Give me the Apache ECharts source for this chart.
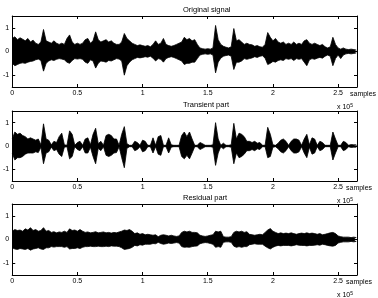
<!DOCTYPE html>
<html><head><meta charset="utf-8">
<script src="https://cdn.jsdelivr.net/npm/echarts@6/dist/echarts.min.js"></script>
<style>html,body{margin:0;padding:0;background:#fff}#c{width:378px;height:298px}</style>
</head><body><div id="c"></div>
<script>
// sample positions (x 10^5 samples), step between envelope readings
const xStep = 0.02;
const xMax = 2.645;
const xTickValues = [0, 0.5, 1, 1.5, 2, 2.5];
const xTickLabels = ['0', '0.5', '1', '1.5', '2', '2.5'];
const yTickValues = [-1, 0, 1];
const titles = ['Original signal', 'Transient part', 'Residual part'];

// envelope readings (upper / lower) of each waveform
const originalUpper = [0.55,0.62,0.5,0.58,0.52,0.45,0.55,0.4,0.48,0.35,0.3,0.4,0.93,0.45,0.4,0.35,0.45,0.35,0.3,0.35,0.3,0.55,0.7,0.4,0.3,0.35,0.3,0.35,0.5,0.55,0.35,0.45,0.83,0.5,0.4,0.45,0.5,0.4,0.45,0.35,0.3,0.3,0.4,0.76,0.55,0.45,0.35,0.3,0.25,0.28,0.25,0.22,0.25,0.2,0.3,0.45,0.3,0.35,0.55,0.3,0.25,0.22,0.25,0.3,0.35,0.4,0.6,0.5,0.55,0.45,0.5,0.3,0.15,0.12,0.1,0.12,0.1,0.15,1.1,0.5,0.3,0.22,0.18,0.15,0.2,0.97,0.45,0.5,0.4,0.3,0.35,0.3,0.28,0.22,0.25,0.2,0.18,0.3,0.8,0.6,0.45,0.55,0.4,0.35,0.4,0.3,0.35,0.3,0.4,0.3,0.35,0.3,0.45,0.5,0.35,0.3,0.35,0.3,0.25,0.3,0.2,0.15,0.2,0.6,0.3,0.15,0.1,0.15,0.1,0.08,0.1,0.08,0.06];
const originalLower = [-0.5,-0.6,-0.55,-0.5,-0.48,-0.5,-0.45,-0.42,-0.4,-0.35,-0.32,-0.38,-0.83,-0.5,-0.4,-0.35,-0.38,-0.33,-0.3,-0.32,-0.35,-0.45,-0.5,-0.38,-0.3,-0.32,-0.3,-0.33,-0.45,-0.5,-0.35,-0.4,-0.7,-0.5,-0.4,-0.42,-0.45,-0.38,-0.4,-0.35,-0.3,-0.32,-0.4,-1.0,-0.6,-0.45,-0.35,-0.3,-0.25,-0.27,-0.25,-0.22,-0.24,-0.2,-0.28,-0.4,-0.3,-0.33,-0.45,-0.3,-0.25,-0.22,-0.25,-0.3,-0.35,-0.4,-0.55,-0.5,-0.5,-0.45,-0.45,-0.3,-0.15,-0.12,-0.1,-0.12,-0.1,-0.15,-0.9,-0.45,-0.28,-0.2,-0.17,-0.15,-0.2,-0.76,-0.45,-0.45,-0.4,-0.3,-0.33,-0.3,-0.27,-0.22,-0.25,-0.2,-0.18,-0.28,-0.55,-0.5,-0.42,-0.45,-0.38,-0.35,-0.38,-0.3,-0.33,-0.3,-0.38,-0.3,-0.33,-0.3,-0.45,-0.6,-0.35,-0.3,-0.33,-0.28,-0.25,-0.28,-0.2,-0.15,-0.2,-0.6,-0.3,-0.15,-0.3,-0.15,-0.1,-0.08,-0.1,-0.08,-0.06];
const transientUpper = [0.3,0.6,0.5,0.55,0.45,0.4,0.3,0.35,0.3,0.25,0.3,0.05,0.95,0.3,0.25,0.05,0.2,0.15,0.4,0.55,0.05,0.03,0.65,0.5,0.03,0.15,0.2,0.03,0.3,0.35,0.05,0.5,0.76,0.1,0.2,0.03,0.45,0.5,0.45,0.3,0.3,0.03,0.5,0.83,0.1,0.03,0.03,0.2,0.15,0.03,0.25,0.2,0.03,0.03,0.35,0.03,0.4,0.45,0.03,0.03,0.35,0.05,0.03,0.03,0.03,0.45,0.6,0.4,0.6,0.3,0.03,0.03,0.15,0.1,0.03,0.03,0.03,0.05,1.0,0.3,0.03,0.12,0.03,0.03,0.05,0.97,0.3,0.55,0.5,0.4,0.2,0.2,0.15,0.2,0.12,0.15,0.03,0.03,0.8,0.5,0.05,0.03,0.12,0.25,0.3,0.2,0.03,0.2,0.3,0.3,0.25,0.03,0.3,0.5,0.05,0.35,0.3,0.03,0.2,0.15,0.03,0.03,0.03,0.6,0.3,0.03,0.03,0.2,0.15,0.03,0.06,0.05,0.05];
const transientLower = [-0.3,-0.6,-0.5,-0.5,-0.45,-0.35,-0.3,-0.3,-0.3,-0.25,-0.28,-0.05,-0.76,-0.3,-0.25,-0.05,-0.2,-0.15,-0.35,-0.45,-0.05,-0.03,-0.55,-0.45,-0.03,-0.15,-0.2,-0.03,-0.3,-0.3,-0.05,-0.45,-0.76,-0.1,-0.2,-0.03,-0.4,-0.45,-0.4,-0.3,-0.28,-0.03,-0.5,-0.93,-0.1,-0.03,-0.03,-0.2,-0.15,-0.03,-0.25,-0.2,-0.03,-0.03,-0.3,-0.03,-0.35,-0.4,-0.03,-0.03,-0.3,-0.05,-0.03,-0.03,-0.03,-0.45,-0.55,-0.4,-0.55,-0.3,-0.03,-0.03,-0.15,-0.1,-0.03,-0.03,-0.03,-0.05,-0.83,-0.3,-0.03,-0.12,-0.03,-0.03,-0.05,-0.76,-0.3,-0.5,-0.45,-0.35,-0.2,-0.2,-0.15,-0.2,-0.12,-0.15,-0.03,-0.03,-0.5,-0.45,-0.05,-0.03,-0.12,-0.25,-0.3,-0.2,-0.03,-0.2,-0.3,-0.3,-0.25,-0.03,-0.3,-0.5,-0.05,-0.35,-0.3,-0.03,-0.2,-0.15,-0.03,-0.03,-0.03,-0.6,-0.3,-0.03,-0.03,-0.2,-0.15,-0.03,-0.06,-0.05,-0.05];
const residualUpper = [0.35,0.42,0.38,0.4,0.35,0.45,0.4,0.5,0.38,0.42,0.35,0.38,0.5,0.35,0.38,0.3,0.33,0.28,0.32,0.3,0.35,0.3,0.45,0.38,0.4,0.35,0.42,0.35,0.3,0.32,0.28,0.3,0.33,0.28,0.3,0.32,0.28,0.3,0.27,0.3,0.28,0.32,0.35,0.4,0.38,0.42,0.35,0.25,0.28,0.22,0.25,0.2,0.22,0.2,0.18,0.2,0.12,0.18,0.2,0.18,0.15,0.18,0.15,0.13,0.15,0.3,0.35,0.32,0.35,0.3,0.3,0.28,0.18,0.15,0.13,0.15,0.18,0.2,0.35,0.32,0.35,0.12,0.1,0.1,0.12,0.3,0.35,0.32,0.35,0.3,0.33,0.22,0.2,0.18,0.2,0.22,0.2,0.3,0.4,0.46,0.35,0.3,0.25,0.28,0.25,0.27,0.25,0.28,0.25,0.22,0.25,0.27,0.25,0.28,0.25,0.27,0.25,0.22,0.25,0.2,0.22,0.25,0.28,0.3,0.25,0.15,0.12,0.1,0.1,0.1,0.08,0.1,0.08];
const residualLower = [-0.35,-0.4,-0.42,-0.38,-0.4,-0.42,-0.38,-0.45,-0.4,-0.38,-0.35,-0.4,-0.42,-0.35,-0.35,-0.3,-0.32,-0.3,-0.3,-0.3,-0.33,-0.3,-0.4,-0.38,-0.38,-0.35,-0.38,-0.33,-0.3,-0.3,-0.28,-0.3,-0.3,-0.28,-0.3,-0.3,-0.28,-0.3,-0.27,-0.28,-0.28,-0.3,-0.35,-0.42,-0.4,-0.38,-0.33,-0.25,-0.27,-0.22,-0.24,-0.2,-0.2,-0.2,-0.17,-0.18,-0.12,-0.17,-0.2,-0.18,-0.15,-0.17,-0.15,-0.13,-0.15,-0.3,-0.33,-0.32,-0.33,-0.3,-0.28,-0.27,-0.18,-0.15,-0.13,-0.14,-0.17,-0.2,-0.33,-0.3,-0.33,-0.12,-0.1,-0.1,-0.12,-0.28,-0.33,-0.3,-0.33,-0.3,-0.3,-0.22,-0.2,-0.18,-0.2,-0.2,-0.2,-0.28,-0.35,-0.4,-0.33,-0.28,-0.25,-0.27,-0.25,-0.25,-0.25,-0.27,-0.25,-0.22,-0.24,-0.25,-0.25,-0.27,-0.25,-0.25,-0.24,-0.22,-0.24,-0.2,-0.22,-0.25,-0.27,-0.28,-0.25,-0.15,-0.12,-0.1,-0.1,-0.1,-0.08,-0.1,-0.08];

const envelopes = [
  [originalUpper, originalLower],
  [transientUpper, transientLower],
  [residualUpper, residualLower]
];

const FONT = '"Liberation Sans", Arial, Helvetica, sans-serif';
const grids = [
  {left: 9, right: 21, top: 16, height: 71},
  {left: 9, right: 21, top: 111, height: 70},
  {left: 9, right: 21, top: 204, height: 71}
];
const axisLine = {show: true, onZero: false, lineStyle: {color: '#000', width: 1}};
const xAxis = [], yAxis = [], series = [], graphic = [];
grids.forEach((g, gi) => {
  const tick = {show: true, inside: true, length: 3, customValues: xTickValues, lineStyle: {color: '#000', width: 1}};
  xAxis.push({gridIndex: gi, type: 'value', min: 0, max: xMax, position: 'bottom', axisLine,
    axisTick: tick, splitLine: {show: false},
    axisLabel: {show: true, customValues: xTickValues, margin: 3, fontSize: 7, color: '#000', fontFamily: FONT,
      formatter: v => xTickLabels[xTickValues.indexOf(v)] ?? ''}});
  xAxis.push({gridIndex: gi, type: 'value', min: 0, max: xMax, position: 'top', axisLine,
    axisTick: tick, splitLine: {show: false}, axisLabel: {show: false}});
  const ytick = {show: true, inside: true, length: 3, customValues: yTickValues, lineStyle: {color: '#000', width: 1}};
  yAxis.push({gridIndex: gi, type: 'value', min: -1.5, max: 1.5, position: 'left', axisLine,
    axisTick: ytick, splitLine: {show: false},
    axisLabel: {show: true, customValues: yTickValues, margin: 3, fontSize: 7, color: '#000', fontFamily: FONT}});
  yAxis.push({gridIndex: gi, type: 'value', min: -1.5, max: 1.5, position: 'right', axisLine,
    axisTick: ytick, splitLine: {show: false}, axisLabel: {show: false}});
  envelopes[gi].forEach(arr => {
    series.push({type: 'line', xAxisIndex: gi * 2, yAxisIndex: gi * 2, silent: true,
      data: arr.map((v, i) => [Math.min(i * xStep, xMax), v]),
      symbol: 'none', lineStyle: {color: '#000', width: 0.8},
      areaStyle: {color: '#000', opacity: 1, origin: 0}});
  });
  // zero baseline of the waveform
  series.push({type: 'line', xAxisIndex: gi * 2, yAxisIndex: gi * 2, silent: true,
    data: [[0, 0], [xMax, 0]], symbol: 'none', lineStyle: {color: '#000', width: 1.2}});
  const bottom = g.top + g.height;
  graphic.push({type: 'text', left: 183, top: g.top - 10, style: {text: titles[gi], font: '7.5px ' + FONT, fill: '#000', textAlign: 'center'}});
  graphic.push({type: 'text', left: gi === 0 ? 350 : 346, top: bottom + 4, style: {text: 'samples', font: '7px ' + FONT, fill: '#000'}});
  graphic.push({type: 'text', left: 337, top: bottom + 16, style: {text: 'x 10{s|5}', font: '7px ' + FONT, fill: '#000',
    rich: {s: {fontSize: 5, verticalAlign: 'top', padding: [0, 0, 4, 0], fontFamily: FONT}}}});
});

const chart = echarts.init(document.getElementById('c'), null, {renderer: 'canvas'});
chart.setOption({animation: false, grid: grids, xAxis, yAxis, series, graphic});
</script></body></html>
